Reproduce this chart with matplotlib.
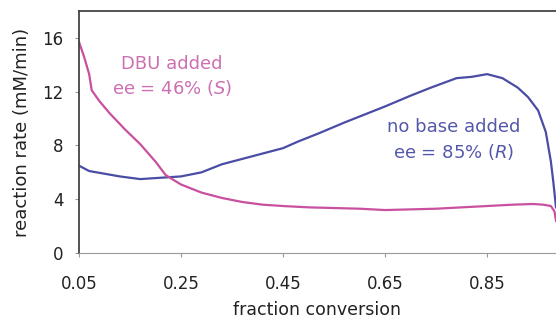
import matplotlib

matplotlib.use("Agg")
import matplotlib.pyplot as plt

# values
x_blue = [0.05, 0.07, 0.10, 0.13, 0.17, 0.21, 0.25, 0.29, 0.33, 0.37, 0.41, 0.45,
          0.48, 0.52, 0.57, 0.61, 0.65, 0.70, 0.74, 0.79, 0.82, 0.85, 0.88, 0.91,
          0.93, 0.95, 0.965, 0.975, 0.98, 0.985]
y_blue = [6.5, 6.1, 5.9, 5.7, 5.5, 5.6, 5.7, 6.0, 6.6, 7.0, 7.4, 7.8,
          8.3, 8.9, 9.7, 10.3, 10.9, 11.7, 12.3, 13.0, 13.1, 13.3, 13.0, 12.3,
          11.6, 10.6, 9.0, 6.8, 5.2, 3.4]

x_pink = [0.05, 0.06, 0.07, 0.075, 0.09, 0.11, 0.14, 0.17, 0.20, 0.22, 0.25,
          0.29, 0.33, 0.37, 0.41, 0.45, 0.50, 0.55, 0.60, 0.65, 0.70, 0.75,
          0.80, 0.85, 0.90, 0.94, 0.96, 0.975, 0.982, 0.985]
y_pink = [15.7, 14.6, 13.3, 12.1, 11.3, 10.4, 9.2, 8.1, 6.8, 5.8, 5.1,
          4.5, 4.1, 3.8, 3.6, 3.5, 3.4, 3.35, 3.3, 3.2, 3.25, 3.3,
          3.4, 3.5, 3.6, 3.65, 3.6, 3.5, 3.1, 2.4]

xticks = [0.05, 0.25, 0.45, 0.65, 0.85]
yticks = [0, 4, 8, 12, 16]

BLUE = "#4a4ca6"
PINK = "#c9509f"

fig = plt.figure(figsize=(5.56, 3.2), dpi=100)
ax = fig.add_axes([0.142, 0.209, 0.858, 0.757])

ax.plot(x_blue, y_blue, color=BLUE, linewidth=1.6)
ax.plot(x_pink, y_pink, color=PINK, linewidth=1.6)

ax.set_xlim(0.05, 0.985)
ax.set_ylim(0, 18)
ax.set_xticks(xticks)
ax.set_xticklabels([f"{v:.2f}" for v in xticks])
ax.set_yticks(yticks)

ax.spines["right"].set_visible(False)
ax.spines["left"].set_color("#444444")
ax.spines["top"].set_color("#444444")
ax.spines["bottom"].set_color("#999999")
ax.spines["left"].set_linewidth(1.3)
ax.spines["top"].set_linewidth(1.3)
ax.tick_params(axis="both", labelsize=12, colors="#999999", labelcolor="#222222", length=3)
ax.tick_params(axis="x", pad=13)
ax.tick_params(axis="y", pad=8)

ax.set_xlabel("fraction conversion", fontsize=12.5, color="#222222")
ax.set_ylabel("reaction rate (mM/min)", fontsize=13, color="#222222")
ax.xaxis.set_label_coords(0.5, -0.198)
ax.yaxis.set_label_coords(-0.1, 0.5)

ax.text(0.232, 14.06, "DBU added", color="#cc70b2", fontsize=13, ha="center", va="center")
ax.text(0.232, 12.28, r"ee = 46% ($\mathit{S}$)", color="#cc70b2", fontsize=13,
        ha="center", va="center")
ax.text(0.784, 9.4, "no base added", color="#5458ab", fontsize=13, ha="center", va="center")
ax.text(0.784, 7.5, r"ee = 85% ($\mathit{R}$)", color="#5458ab", fontsize=13,
        ha="center", va="center")

fig.savefig("out.png", dpi=100)
